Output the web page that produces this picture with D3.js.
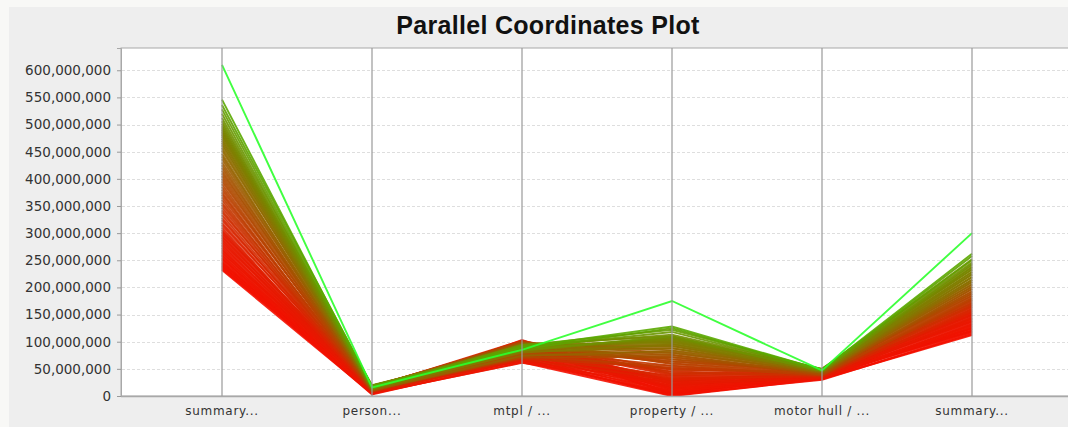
<!DOCTYPE html>
<html>
<head>
<meta charset="utf-8">
<script src="https://cdn.jsdelivr.net/npm/d3@7"></script>
<style>
  html, body { margin: 0; padding: 0; background: #f8f8f6; }
  svg { display: block; }
</style>
</head>
<body>
<div id="chart"></div>
<script>
// valores en millones, una entrada por linea (ordenadas por el primer eje)
const dimensiones = ["summary...", "person...", "mtpl / ...", "property / ...", "motor hull / ...", "summary..."];

const summaryA = [232, 234, 236, 238, 240, 242, 244, 246, 248, 251, 253, 255, 258, 260, 263, 265, 268, 270, 273, 276, 279, 282, 285, 288, 291, 294, 297, 300, 303, 306,
  310, 315, 319, 324, 328, 333, 338, 342, 347, 352, 356, 361, 366, 371, 375, 380, 385, 390, 395, 400, 405, 410, 415, 420, 425, 430, 436, 441, 446, 452,
  457, 462, 466, 470, 474, 478, 481, 484, 487, 490, 493, 497, 501, 506, 512, 520, 528, 536, 546,
  610];
const person = [4, 12, 6, 15, 3, 9, 13, 5, 11, 7, 14, 4, 10, 8, 16, 6, 12, 5, 9, 13, 7, 15, 11, 6, 14, 8, 10, 17, 9, 12,
  7, 14, 10, 16, 8, 12, 18, 9, 13, 11, 17, 8, 15, 12, 10, 19, 13, 9, 16, 11, 14, 18, 12, 15, 10, 17, 13, 16, 11, 19,
  12, 16, 14, 18, 13, 17, 15, 19, 14, 16, 20, 13, 17, 15, 18, 14, 16, 19, 15,
  16];
const mtpl = [62, 95, 70, 101, 66, 88, 74, 98, 64, 92, 79, 103, 68, 85, 96, 72, 90, 61, 99, 77, 87, 65, 94, 81, 100, 70, 89, 76, 97, 83,
  67, 93, 80, 102, 72, 88, 96, 75, 91, 69, 99, 84, 78, 95, 73, 90, 101, 82, 87, 71, 97, 86, 79, 93, 76, 98, 84, 89, 74, 92,
  82, 91, 86, 94, 80, 89, 92, 85, 90, 83, 88, 95, 87, 91, 84, 89, 93, 86, 90,
  85];
const property = [0, 3, 1, 5, 2, 7, 4, 9, 5, 11, 7, 13, 9, 15, 12, 18, 14, 20, 16, 22, 18, 25, 21, 27, 23, 30, 26, 32, 28, 35,
  30, 38, 33, 41, 37, 45, 40, 49, 44, 52, 48, 56, 51, 60, 55, 64, 59, 68, 63, 72, 67, 76, 71, 80, 75, 84, 79, 88, 83, 92,
  88, 96, 92, 100, 95, 103, 98, 106, 101, 108, 104, 110, 107, 113, 110, 118, 122, 125, 128,
  175];
const motorHull = [31, 35, 32, 37, 30, 34, 38, 33, 36, 31, 39, 34, 32, 37, 35, 40, 33, 36, 38, 34, 41, 35, 37, 39, 33, 42, 36, 38, 40, 35,
  37, 41, 36, 43, 39, 38, 44, 40, 37, 42, 45, 39, 41, 43, 38, 46, 40, 42, 44, 41, 47, 39, 43, 45, 42, 48, 44, 46, 43, 47,
  44, 47, 45, 49, 46, 48, 45, 50, 47, 46, 49, 48, 47, 50, 46, 48, 49, 47, 48,
  47];
const summaryB = [112, 118, 114, 121, 116, 124, 119, 126, 121, 129, 124, 132, 127, 135, 130, 138, 133, 141, 137, 144, 139, 147, 142, 150, 145, 153, 149, 156, 151, 159,
  154, 162, 157, 165, 160, 168, 164, 171, 167, 175, 170, 178, 173, 181, 177, 185, 180, 189, 184, 193, 188, 197, 192, 201, 197, 205, 201, 210, 206, 214,
  210, 219, 214, 224, 219, 228, 224, 233, 229, 237, 233, 241, 237, 246, 243, 252, 250, 258, 262,
  300];
const ticksY = [0, 50, 100, 150, 200, 250, 300, 350, 400, 450, 500, 550, 600];

const columnas = [summaryA, person, mtpl, property, motorHull, summaryB];
const lineas = summaryA.map((d, i) => columnas.map(c => c[i] * 1e6));

const ancho = 1068, alto = 427;
const plot = { left: 121, top: 48, right: 1090, bottom: 396 };

const svg = d3.select("#chart").append("svg")
  .attr("width", ancho)
  .attr("height", alto);

// panel gris
svg.append("rect")
  .attr("x", 9).attr("y", 7)
  .attr("width", ancho).attr("height", alto)
  .attr("fill", "#eeeeee");

svg.append("text")
  .attr("x", 548).attr("y", 34)
  .attr("text-anchor", "middle")
  .attr("font-family", "Liberation Sans, Arial, sans-serif")
  .attr("font-weight", "bold")
  .attr("font-size", "25px")
  .attr("letter-spacing", "0.3px")
  .attr("fill", "#111")
  .text("Parallel Coordinates Plot");

svg.append("rect")
  .attr("x", plot.left).attr("y", plot.top)
  .attr("width", plot.right - plot.left).attr("height", plot.bottom - plot.top)
  .attr("fill", "#fff")
  .attr("stroke", "#a8a8a8");

const xScale = d3.scalePoint()
  .domain(d3.range(dimensiones.length))
  .range([222, 972]);

const yScale = d3.scaleLinear()
  .domain([0, 641e6])
  .range([plot.bottom, plot.top]);

// lineas de grilla
svg.append("g")
  .selectAll("line")
  .data(ticksY)
  .enter()
  .append("line")
  .attr("x1", plot.left + 1)
  .attr("x2", plot.right)
  .attr("y1", d => Math.round(yScale(d * 1e6)) + 0.5)
  .attr("y2", d => Math.round(yScale(d * 1e6)) + 0.5)
  .attr("stroke", "#dedede")
  .attr("stroke-dasharray", "3,2");

// eje Y
const ejeY = svg.append("g")
  .attr("transform", `translate(${plot.left},0)`)
  .call(d3.axisLeft(yScale)
    .tickValues(ticksY.map(d => d * 1e6))
    .tickFormat(d3.format(","))
    .tickSize(4)
    .tickPadding(6));
ejeY.select(".domain").attr("stroke", "#a8a8a8");
ejeY.selectAll(".tick line").attr("stroke", "#999");
ejeY.selectAll("text")
  .attr("fill", "#333")
  .style("font-family", "DejaVu Sans, sans-serif")
  .style("font-size", "13.5px");

// colores de rojo a verde segun el primer eje
const color = d3.scaleLinear()
  .domain([232e6, 300e6, 420e6, 546e6, 610e6])
  .range(["#f41000", "#e41a00", "#a65200", "#5aa800", "#2cff2c"])
  .interpolate(d3.interpolateRgb);

const line = d3.line()
  .x((d, i) => xScale(i))
  .y(d => yScale(d));

svg.append("g")
  .selectAll("path")
  .data(lineas)
  .enter()
  .append("path")
  .attr("d", line)
  .attr("fill", "none")
  .attr("stroke", d => color(d[0]))
  .attr("stroke-width", 1.9)
  .attr("stroke-opacity", 0.9);

// ejes verticales
svg.append("g")
  .selectAll("line")
  .data(dimensiones)
  .enter()
  .append("line")
  .attr("x1", (d, i) => xScale(i))
  .attr("x2", (d, i) => xScale(i))
  .attr("y1", plot.top)
  .attr("y2", plot.bottom)
  .attr("stroke", "#999")
  .attr("stroke-width", 1.2);

svg.append("line")
  .attr("x1", plot.left).attr("x2", plot.right)
  .attr("y1", plot.bottom + 0.5).attr("y2", plot.bottom + 0.5)
  .attr("stroke", "#a8a8a8")
  .attr("stroke-width", 1.5);

// etiquetas de los ejes
svg.append("g")
  .selectAll("text")
  .data(dimensiones)
  .enter()
  .append("text")
  .attr("x", (d, i) => xScale(i))
  .attr("y", 415)
  .attr("text-anchor", "middle")
  .attr("fill", "#333")
  .attr("letter-spacing", "0.7px")
  .style("font-family", "DejaVu Sans, sans-serif")
  .style("font-size", "12px")
  .text(d => d);
</script>
</body>
</html>
